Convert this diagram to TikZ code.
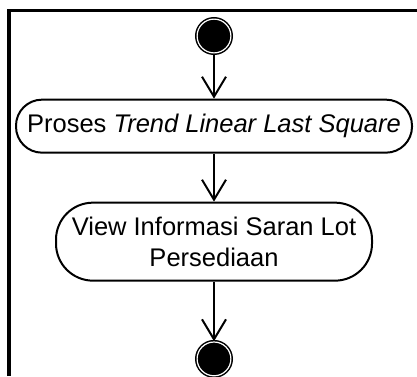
\documentclass[tikz,border=0pt]{standalone}
\usepackage{fontspec}
\setmainfont{Liberation Sans}
\usetikzlibrary{positioning,arrows.meta}

\begin{document}
\begin{tikzpicture}[x=1pt, y=1pt, line width=2pt,
	main/.style = {draw, rounded corners=26pt, minimum width=396pt, minimum height=53pt, inner sep=0pt, align=center, font=\fontsize{25.5}{31}\selectfont},
	dot/.style = {draw, circle, fill=black, double=white, double distance=1.2pt, line width=1.5pt, minimum size=33.8pt, inner sep=0pt},
	>={Straight Barb[length=20pt, width=24pt]}]
		\useasboundingbox (0,0) rectangle (417,-376);
		\draw[line width=3.5pt] (9,-376) -- (9,-10.5) -- (417,-10.5);
		
		\node[dot] (1) at (214,-36) {};
		\node[main] (2) [below=45pt of 1] {Proses \textit{Trend Linear Last Square}};
		\node[main, minimum width=316pt, minimum height=78pt, rounded corners=37pt] (3) [below=48pt of 2] {View Informasi Saran Lot\\Persediaan};
		\node[dot] (4) [below=59.6pt of 3] {};
		
		\draw[->] (1) -- (2);
		\draw[->] (2) -- (3);
		\draw[->] (3) -- (4);
	\end{tikzpicture}
\end{document}
